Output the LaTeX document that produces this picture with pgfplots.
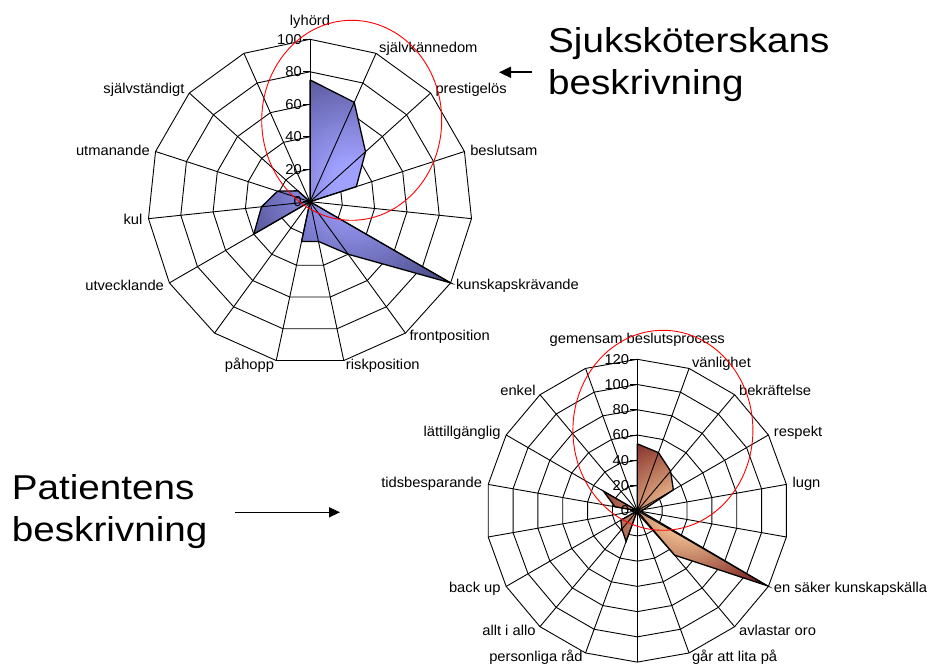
\documentclass[border=0pt]{standalone}
\usepackage{fontspec}
\setmainfont{Liberation Sans}
\newfontfamily\lblfont[FakeStretch=1.03]{Liberation Sans}
\newfontfamily\bigfont[FakeStretch=1.12]{Liberation Sans}
\usepackage{pgfplots}
\pgfplotsset{compat=1.18}
\usepgfplotslibrary{polar}
\usetikzlibrary{arrows.meta}
\definecolor{bluedark}{RGB}{66,66,126}
\definecolor{bluelight}{RGB}{160,160,255}
\definecolor{browndark}{RGB}{115,24,24}
\definecolor{brownlight}{RGB}{246,198,150}
\pgfdeclareradialshading{bluerad}{\pgfpoint{0bp}{0bp}}{color(0bp)=(bluelight); color(5bp)=(bluelight); color(35bp)=(bluedark); color(75bp)=(bluedark)}
\pgfdeclareradialshading{brownrad}{\pgfpoint{0bp}{0bp}}{color(0bp)=(brownlight); color(5bp)=(brownlight); color(33bp)=(browndark); color(75bp)=(browndark)}
\newcommand\lbl{\lblfont\fontsize{14.3bp}{16bp}\selectfont}
\newcommand\bigtxt{\bigfont\fontsize{34.5bp}{40bp}\selectfont}
\pgfplotsset{
  radar/.style={anchor=center, scale only axis, xmin=0, xmax=360, ymin=0,
    hide axis, clip=false},
}
\tikzset{
  gridline/.style={black, line width=0.9bp},
  lab/.style={font=\lbl, inner sep=1bp},
}
\begin{document}
\begin{tikzpicture}
\path[use as bounding box] (0bp,0bp) rectangle (944bp,666bp);

% ---------------- top radar: Sjukskoterskans beskrivning ----------------
\begin{polaraxis}[radar, at={(310bp,464.3bp)}, width=324.8bp, height=324.8bp, ymax=100]
\pgfplotsinvokeforeach{20,40,60,80,100}{
  \addplot[gridline] coordinates {(90,#1)(66,#1)(42,#1)(18,#1)(354,#1)(330,#1)(306,#1)(282,#1)(258,#1)(234,#1)(210,#1)(186,#1)(162,#1)(138,#1)(114,#1)(90,#1)};
}
\addplot[draw=black, line width=1.3bp, shading=bluerad]
  coordinates {(90,75)(66,67)(42,46)(18,30)(354,0)(330,100)(306,40)(282,25)(258,25)(234,0)(210,40)(186,30)(162,21)(138,10)(114,0)(90,75)};
\pgfplotsinvokeforeach{90,66,42,18,354,330,306,282,258,234,210,186,162,138,114}{
  \addplot[gridline] coordinates {(#1,0)(#1,100)};
}
\pgfplotsinvokeforeach{0,20,40,60,80,100}{
  \draw[gridline] (axis cs:90,#1) -- ++(-7bp,0bp);
  \node[lab, anchor=east, xshift=-7bp] at (axis cs:90,#1) {#1};
}
\node[lab, anchor=south, yshift=10bp] at (axis cs:90,100) {lyhörd};
\node[lab, anchor=west] at (axis cs:66,103) {självkännedom};
\node[lab, anchor=west] at (axis cs:42,103) {prestigelös};
\node[lab, anchor=west] at (axis cs:18,103) {beslutsam};
\node[lab, anchor=west] at (axis cs:330,103) {kunskapskrävande};
\node[lab, anchor=west] at (axis cs:306,103) {frontposition};
\node[lab, anchor=west] at (axis cs:282,103) {riskposition};
\node[lab, anchor=east] at (axis cs:258,103) {påhopp};
\node[lab, anchor=east] at (axis cs:210,103) {utvecklande};
\node[lab, anchor=east] at (axis cs:186,103) {kul};
\node[lab, anchor=east] at (axis cs:162,103) {utmanande};
\node[lab, anchor=east] at (axis cs:138,103) {självständigt};
\end{polaraxis}

% ---------------- bottom radar: Patientens beskrivning ----------------
\begin{polaraxis}[radar, at={(637.3bp,155.3bp)}, width=302.8bp, height=302.8bp, ymax=120]
\pgfplotsinvokeforeach{20,40,60,80,100,120}{
  \addplot[gridline] coordinates {(90,#1)(70,#1)(50,#1)(30,#1)(10,#1)(350,#1)(330,#1)(310,#1)(290,#1)(270,#1)(250,#1)(230,#1)(210,#1)(190,#1)(170,#1)(150,#1)(130,#1)(110,#1)(90,#1)};
}
\addplot[draw=black, line width=1.3bp, shading=brownrad]
  coordinates {(90,53)(70,49)(50,41)(30,33)(10,5)(350,3)(330,119)(310,46)(290,3)(270,0)(250,26)(230,19)(210,15)(190,0)(170,18)(150,31)(130,0)(110,0)(90,53)};
\pgfplotsinvokeforeach{90,70,50,30,10,350,330,310,290,270,250,230,210,190,170,150,130,110}{
  \addplot[gridline] coordinates {(#1,0)(#1,120)};
}
\pgfplotsinvokeforeach{0,20,40,60,80,100,120}{
  \draw[gridline] (axis cs:90,#1) -- ++(-7bp,0bp);
  \node[lab, anchor=east, xshift=-7bp] at (axis cs:90,#1) {#1};
}
\node[lab, anchor=south, yshift=12bp] at (axis cs:90,120) {gemensam beslutsprocess};
\node[lab, anchor=west] at (axis cs:70,124) {vänlighet};
\node[lab, anchor=west] at (axis cs:50,124) {bekräftelse};
\node[lab, anchor=west] at (axis cs:30,124) {respekt};
\node[lab, anchor=west] at (axis cs:10,124) {lugn};
\node[lab, anchor=west] at (axis cs:330,124) {en säker kunskapskälla};
\node[lab, anchor=west] at (axis cs:310,124) {avlastar oro};
\node[lab, anchor=west] at (axis cs:290,124) {går att lita på};
\node[lab, anchor=east] at (axis cs:250,124) {personliga råd};
\node[lab, anchor=east] at (axis cs:230,124) {allt i allo};
\node[lab, anchor=east] at (axis cs:210,124) {back up};
\node[lab, anchor=east] at (axis cs:170,124) {tidsbesparande};
\node[lab, anchor=east] at (axis cs:150,124) {lättillgänglig};
\node[lab, anchor=east] at (axis cs:130,124) {enkel};
\end{polaraxis}

% ---------------- annotations ----------------
\draw[red, line width=0.9bp] (351.7bp,545.7bp) ellipse [x radius=90bp, y radius=100bp];
\draw[red, line width=0.9bp] (662.9bp,235.7bp) ellipse [x radius=90bp, y radius=100bp];
\draw[line width=1.8bp, -{Triangle[length=12bp, width=11bp]}] (532bp,593.7bp) -- (499bp,593.7bp);
\draw[line width=1.5bp, -{Triangle[length=11bp, width=10bp]}] (235bp,153.7bp) -- (340bp,153.7bp);
\node[anchor=base west, inner sep=0pt, font=\bigtxt] at (548bp,613.3bp) {Sjuksköterskans};
\node[anchor=base west, inner sep=0pt, font=\bigtxt] at (548bp,571bp) {beskrivning};
\node[anchor=base west, inner sep=0pt, font=\bigtxt] at (11.7bp,166.7bp) {Patientens};
\node[anchor=base west, inner sep=0pt, font=\bigtxt] at (11.7bp,124.3bp) {beskrivning};
\end{tikzpicture}
\end{document}
